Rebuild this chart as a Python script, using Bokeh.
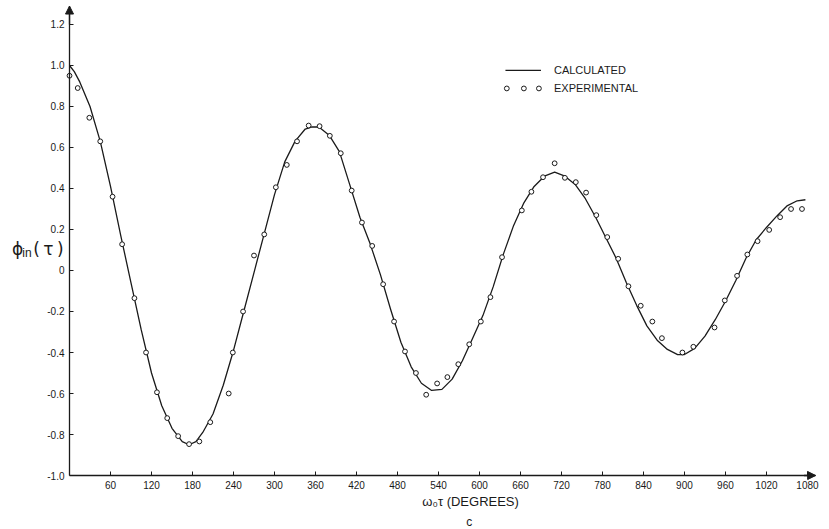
from bokeh.plotting import figure
from bokeh.models import Range1d, FixedTicker, Label, Arrow, NormalHead
from bokeh.core.properties import value
from bokeh.embed import file_html
from bokeh.resources import INLINE

# ---- data ----
calc_deg = [0, 7, 15, 30, 45, 60, 75, 90, 105, 120, 135, 150, 165, 175, 185,
            195, 210, 225, 240, 255, 270, 285, 300, 315, 330, 345, 355, 365,
            380, 395, 410, 425, 440, 455, 470, 485, 500, 515, 530, 545, 560,
            575, 590, 605, 620, 635, 650, 665, 680, 695, 710, 725, 740, 755,
            770, 785, 800, 815, 830, 845, 860, 875, 890, 900, 915, 930, 945,
            960, 975, 990, 1005, 1020, 1035, 1050, 1065, 1077]
calc_val = [1.00, 0.97, 0.92, 0.80, 0.63, 0.41, 0.17, -0.06, -0.29, -0.50,
            -0.66, -0.77, -0.835, -0.85, -0.835, -0.79, -0.70, -0.56, -0.39,
            -0.20, -0.01, 0.18, 0.37, 0.53, 0.63, 0.69, 0.70, 0.70, 0.66, 0.58,
            0.42, 0.26, 0.13, -0.02, -0.19, -0.35, -0.47, -0.55, -0.585, -0.58,
            -0.53, -0.44, -0.33, -0.22, -0.08, 0.08, 0.22, 0.33, 0.41, 0.46,
            0.48, 0.46, 0.42, 0.35, 0.26, 0.16, 0.06, -0.06, -0.17, -0.27,
            -0.34, -0.385, -0.41, -0.41, -0.38, -0.32, -0.24, -0.15, -0.05,
            0.06, 0.15, 0.21, 0.265, 0.315, 0.34, 0.345]

exp_deg = [0, 12, 29, 45, 63, 77, 95, 112, 128, 143, 159, 175, 190, 206, 233,
           239, 254, 270, 285, 302, 318, 333, 350, 366, 381, 397, 413, 428,
           443, 459, 475, 491, 507, 522, 538, 553, 569, 585, 602, 616, 633,
           662, 676, 693, 710, 725, 741, 756, 771, 787, 803, 818, 836, 853,
           867, 897, 913, 944, 959, 977, 992, 1007, 1024, 1040, 1056, 1072]
exp_val = [0.95, 0.89, 0.745, 0.63, 0.36, 0.128, -0.135, -0.40, -0.594, -0.72,
           -0.808, -0.847, -0.834, -0.74, -0.60, -0.40, -0.20, 0.073, 0.176,
           0.406, 0.515, 0.63, 0.707, 0.704, 0.657, 0.572, 0.39, 0.234, 0.12,
           -0.067, -0.249, -0.395, -0.50, -0.606, -0.551, -0.52, -0.457,
           -0.36, -0.249, -0.13, 0.065, 0.293, 0.384, 0.455, 0.523, 0.452,
           0.431, 0.38, 0.27, 0.163, 0.057, -0.077, -0.172, -0.249, -0.33,
           -0.40, -0.372, -0.278, -0.146, -0.026, 0.078, 0.143, 0.198, 0.26,
           0.30, 0.30]

x_ticks = [60, 120, 180, 240, 300, 360, 420, 480, 540, 600, 660, 720, 780,
           840, 900, 960, 1020, 1080]
y_ticks = [-1.0, -0.8, -0.6, -0.4, -0.2, 0, 0.2, 0.4, 0.6, 0.8, 1.0, 1.2]
y_tick_labels = ["-1.0", "-0.8", "-0.6", "-0.4", "-0.2", "0", "0.2", "0.4",
                 "0.6", "0.8", "1.0", "1.2"]

INK = "#1a1a1a"
FONT = "Liberation Sans"

# frame fills the whole canvas; the axes sit at fixed data locations
p = figure(width=828, height=528,
           x_range=Range1d(-101, 1110.8), y_range=Range1d(-1.2585, 1.317),
           output_backend="svg", toolbar_location=None,
           min_border_left=0, min_border_right=0,
           min_border_top=0, min_border_bottom=0)
p.grid.visible = False
p.outline_line_color = None
p.background_fill_color = "white"
p.border_fill_color = "white"

p.line(calc_deg, calc_val, line_color=INK, line_width=1.3)
p.scatter(exp_deg, exp_val, marker="circle", size=4.8,
          fill_color="white", line_color=INK, line_width=1)

p.xaxis.fixed_location = -1.0
p.xaxis.bounds = (0, 1092)
p.yaxis.fixed_location = 0
p.yaxis.bounds = (-1.0, 1.29)

for ax in (p.xaxis[0], p.yaxis[0]):
    ax.axis_line_color = INK
    ax.axis_line_width = 1.3
    ax.major_tick_in = 4
    ax.major_tick_out = 0
    ax.major_tick_line_color = INK
    ax.minor_tick_line_color = None
    ax.major_label_text_font = FONT
    ax.major_label_text_font_size = "10px"
    ax.major_label_text_color = INK
    ax.major_label_standoff = 5

p.xaxis.ticker = FixedTicker(ticks=x_ticks)
p.yaxis.ticker = FixedTicker(ticks=y_ticks)
p.yaxis.major_label_overrides = {t: s for t, s in zip(y_ticks, y_tick_labels)}

# axis arrows
p.add_layout(Arrow(end=NormalHead(size=8, fill_color=INK, line_color=INK),
                   x_start=1075, y_start=-1.0, x_end=1092, y_end=-1.0,
                   line_color=INK, line_width=1.3))
p.add_layout(Arrow(end=NormalHead(size=8, fill_color=INK, line_color=INK),
                   x_start=0, y_start=1.2, x_end=0, y_end=1.29,
                   line_color=INK, line_width=1.3))

# legend (manual, as in the original)
LEG_X0, LEG_X1, LEG_Y1, LEG_Y2, LEG_TX = 638, 690, 0.976, 0.888, 709
p.line([LEG_X0, LEG_X1], [LEG_Y1, LEG_Y1], line_color=INK, line_width=1.3)
p.scatter([LEG_X0 + 2, (LEG_X0 + LEG_X1) / 2 + 1, LEG_X1 - 3],
          [LEG_Y2] * 3, marker="circle", size=4.8,
          fill_color="white", line_color=INK, line_width=1)
p.text([LEG_TX, LEG_TX], [LEG_Y1, LEG_Y2], text=["CALCULATED", "EXPERIMENTAL"],
       text_font=value(FONT), text_font_size="11px", text_color=INK,
       text_baseline="middle", text_align="left")

# y-axis title  phi_in(tau)
p.add_layout(Label(x=-84, y=0.107, text="ϕ", text_font="DejaVu Sans",
                   text_font_size="17px", text_baseline="middle",
                   text_color=INK))
p.add_layout(Label(x=-69, y=0.083, text="in", text_font=FONT,
                   text_font_size="12px", text_baseline="middle",
                   text_color=INK))
p.add_layout(Label(x=-53, y=0.107, text="(\u2009τ\u2009)", text_font="DejaVu Sans",
                   text_font_size="17px", text_baseline="middle",
                   text_color=INK))

# x-axis title and panel letter
p.add_layout(Label(x=587, y=-1.128, text="ω₀τ (DEGREES)", text_font=FONT,
                   text_font_size="13px", text_align="center",
                   text_baseline="middle", text_color=INK))
p.add_layout(Label(x=585, y=-1.225, text="c", text_font=FONT,
                   text_font_size="12px", text_align="center",
                   text_baseline="middle", text_color=INK))

open("out.html", "w").write(file_html(p, INLINE))
